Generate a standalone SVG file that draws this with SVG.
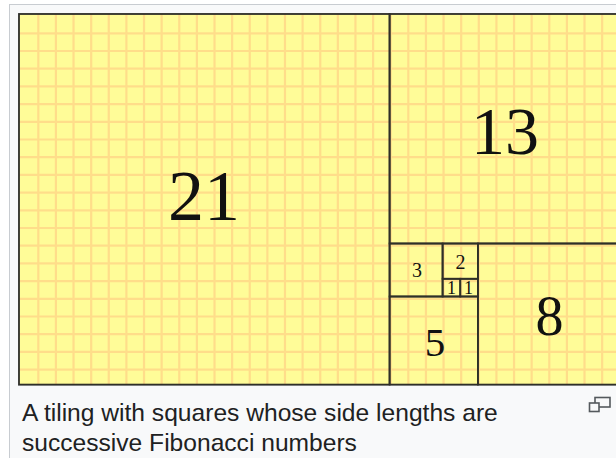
<svg xmlns="http://www.w3.org/2000/svg" width="616" height="458" viewBox="0 0 616 458">
<style>
.sq{fill:none;stroke:#2f2f28;stroke-width:1.8}
.num{font-family:"Liberation Serif","Times New Roman",serif;fill:#111;text-anchor:middle}
.cap{font-family:"Liberation Sans",Arial,sans-serif;font-size:24.6px;fill:#202122}
.grid{fill:none;stroke:#ffd385;stroke-width:2.2;stroke-opacity:0.75}
</style>
<defs>
<clipPath id="imgclip"><rect x="19" y="14" width="600" height="370.6"/></clipPath>
</defs>
<rect x="9.5" y="4.5" width="620" height="470" fill="#f8f9fa" stroke="#c8ccd1"/>
<rect x="18.5" y="13.5" width="610" height="372" fill="#fff" stroke="#c8ccd1"/>
<rect x="19" y="14" width="600" height="370.6" fill="#fffc98"/>
<g id="grid" clip-path="url(#imgclip)">
<path class="grid" d="M38.3 14v371M55.92 14v371M73.54 14v371M91.16 14v371M108.78 14v371M126.4 14v371M144.02 14v371M161.64 14v371M179.26 14v371M196.88 14v371M214.5 14v371M232.12 14v371M249.74 14v371M267.36 14v371M284.98 14v371M302.6 14v371M320.22 14v371M337.84 14v371M355.46 14v371M373.08 14v371M390.7 14v371M408.32 14v371M425.94 14v371M443.56 14v371M461.18 14v371M478.8 14v371M496.42 14v371M514.04 14v371M531.66 14v371M549.28 14v371M566.9 14v371M584.52 14v371M602.14 14v371M19 33.3h600M19 51h600M19 68.7h600M19 86.4h600M19 104.1h600M19 121.8h600M19 139.5h600M19 157.2h600M19 174.9h600M19 192.6h600M19 210.3h600M19 228h600M19 245.7h600M19 263.4h600M19 281.1h600M19 298.8h600M19 316.5h600M19 334.2h600M19 351.9h600M19 369.6h600"/>
</g>
<g id="sq21"><rect class="sq" x="19" y="14" width="370.6" height="370.6"/><text class="num" x="204" y="220" font-size="72">21</text></g>
<g id="sq13"><rect class="sq" x="389.6" y="14" width="229.5" height="229.5"/><text class="num" x="505" y="153.5" font-size="68">13</text></g>
<g id="sq8"><rect class="sq" x="477.9" y="243.5" width="141.2" height="141.1"/><text class="num" x="549.5" y="334.5" font-size="56">8</text></g>
<g id="sq5"><rect class="sq" x="389.6" y="296.5" width="88.3" height="88.1"/><text class="num" x="435" y="355.7" font-size="41">5</text></g>
<g id="sq3"><rect class="sq" x="389.6" y="243.5" width="53" height="53"/><text class="num" x="417" y="276.7" font-size="20">3</text></g>
<g id="sq2"><rect class="sq" x="442.6" y="243.5" width="35.3" height="35.3"/><text class="num" x="460.5" y="269.3" font-size="20">2</text></g>
<g id="sq1a"><rect class="sq" x="442.6" y="278.8" width="17.65" height="17.7"/><text class="num" x="451.5" y="294.3" font-size="18">1</text></g>
<g id="sq1b"><rect class="sq" x="460.25" y="278.8" width="17.65" height="17.7"/><text class="num" x="468.5" y="294.3" font-size="18">1</text></g>
<g id="connectors"></g>
<g id="caption">
<text class="cap" x="22" y="421">A tiling with squares whose side lengths are</text>
<text class="cap" x="22" y="451">successive Fibonacci numbers</text>
</g>
<g id="magnify" fill="#f8f9fa" stroke="#54595d" stroke-width="1.6">
<rect x="595" y="397.5" width="15" height="9.5"/>
<rect x="589.5" y="403" width="9.5" height="8.5"/>
</g>
</svg>
